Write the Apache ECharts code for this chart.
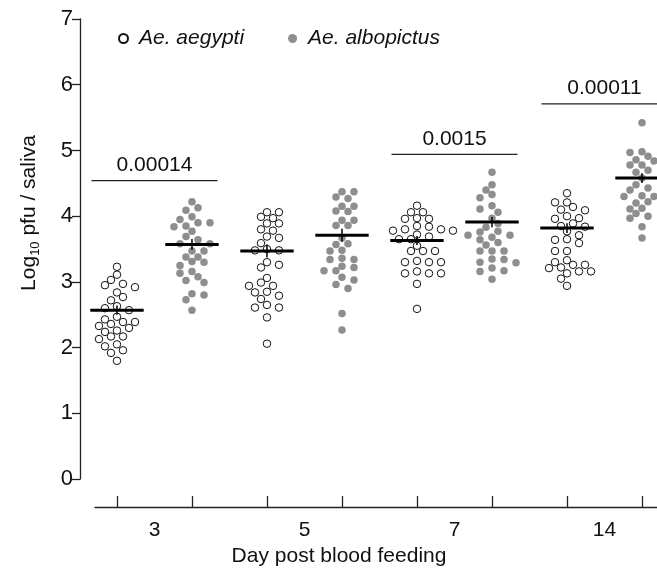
<!DOCTYPE html>
<html><head><meta charset="utf-8">
<script src="https://cdn.jsdelivr.net/npm/echarts@6/dist/echarts.min.js"></script>
<style>html,body{margin:0;padding:0;background:#fff}#c{width:657px;height:572px}</style>
</head><body><div id="c"></div>
<script>
// ---- data ----
const days = ['3', '5', '7', '14'];
const species = ['Ae. aegypti', 'Ae. albopictus'];
const yTicks = [0, 1, 2, 3, 4, 5, 6, 7];

const d3Aeg = [3.23,3.11,2.97,3.03,2.95,2.92,2.84,2.77,2.72,2.60,2.57,2.63,2.54,2.47,2.43,2.39,2.39,2.36,2.30,2.33,2.24,2.26,2.17,2.13,2.17,2.05,2.02,1.96,1.92,1.80];
const d3Alb = [4.22,4.13,4.09,3.99,3.95,3.90,3.85,3.84,3.90,3.77,3.69,3.64,3.58,3.58,3.47,3.47,3.38,3.38,3.31,3.25,3.30,3.16,3.08,3.13,3.02,2.99,2.80,2.82,2.73,2.57];
const d5Aeg = [4.06,4.06,3.99,3.97,3.89,3.89,3.80,3.78,3.67,3.69,3.59,3.50,3.48,3.48,3.30,3.26,3.22,3.06,2.94,2.94,2.99,2.85,2.79,2.84,2.74,2.61,2.61,2.65,2.46,2.06];
const d5Alb = [4.37,4.37,4.29,4.27,4.15,4.15,4.08,4.07,3.94,3.94,3.86,3.86,3.67,3.57,3.58,3.47,3.48,3.36,3.34,3.34,3.22,3.24,3.17,3.17,3.03,3.07,2.96,2.90,2.52,2.27];
const d7Aeg = [4.16,4.06,4.06,3.96,3.96,3.97,3.85,3.84,3.80,3.78,3.78,3.80,3.72,3.69,3.65,3.65,3.55,3.47,3.47,3.47,3.32,3.30,3.30,3.30,3.13,3.16,3.13,3.13,2.97,2.59];
const d7Alb = [4.67,4.48,4.40,4.33,4.28,4.16,4.11,4.06,3.97,3.89,3.83,3.76,3.77,3.68,3.71,3.71,3.64,3.60,3.56,3.47,3.47,3.47,3.34,3.30,3.35,3.29,3.21,3.17,3.16,3.04];
const d14Aeg = [4.35,4.21,4.21,4.14,4.10,4.09,3.97,3.96,4.00,3.89,3.85,3.84,3.77,3.71,3.65,3.64,3.59,3.47,3.47,3.33,3.30,3.26,3.26,3.21,3.16,3.16,3.22,3.13,3.05,2.94];
const d14Alb = [5.42,4.97,4.98,4.91,4.84,4.86,4.75,4.78,4.70,4.78,4.67,4.58,4.48,4.40,4.43,4.31,4.29,4.30,4.30,4.22,4.20,4.16,4.11,4.12,4.04,4.00,3.97,3.84,3.67];

const aegGroups = [d3Aeg, d5Aeg, d7Aeg, d14Aeg];
const albGroups = [d3Alb, d5Alb, d7Alb, d14Alb];
const aegMeans = [2.57, 3.47, 3.63, 3.82];
const albMeans = [3.57, 3.71, 3.91, 4.58];

const pLabels = ['0.00014', '0.0015', '0.00011'];
const pDayIdx = [0, 2, 3];
const pHeights = [4.54, 4.94, 5.71];

// ---- layout helpers ----
const W = 657, H = 572;
const GRID = { left: 95, right: 0, top: 19, bottom: 90 };
const X_MIN = -0.293, X_MAX = 7.2, Y_MIN = 0, Y_MAX = 7;
const xScale = (W - GRID.left - GRID.right) / (X_MAX - X_MIN);
const yScale = (H - GRID.top - GRID.bottom) / (Y_MAX - Y_MIN);
const MEAN_HALF = 0.356, SIG_HALF = 0.84;

function swarm(values, center) {
  const D = 7.4, step = 6;
  const placed = [];
  const out = new Array(values.length);
  const order = values.map((v, i) => i).sort((a, b) => values[b] - values[a]);
  let flip = 1;
  order.forEach(i => {
    const py = values[i] * yScale;
    flip = -flip;
    for (let k = 0; k < 60; k++) {
      const dx = k === 0 ? 0 : flip * (k % 2 ? 1 : -1) * Math.ceil(k / 2) * step;
      if (placed.every(p => (p.dx - dx) ** 2 + (p.py - py) ** 2 >= D * D)) {
        placed.push({ dx, py });
        out[i] = [center + dx / xScale, values[i]];
        break;
      }
    }
  });
  return out;
}
function sem(arr) {
  const m = arr.reduce((a, b) => a + b, 0) / arr.length;
  const v = arr.reduce((a, b) => a + (b - m) ** 2, 0) / (arr.length - 1);
  return Math.sqrt(v / arr.length);
}

const aegData = [], albData = [], meanData = [];
days.forEach((d, i) => {
  aegData.push(...swarm(aegGroups[i], 2 * i));
  albData.push(...swarm(albGroups[i], 2 * i + 1));
  meanData.push([2 * i, aegMeans[i], sem(aegGroups[i])]);
  meanData.push([2 * i + 1, albMeans[i], sem(albGroups[i])]);
});
const sigData = pLabels.map((l, i) => [2 * pDayIdx[i] + 0.5, pHeights[i]]);

const FONT = 'Liberation Sans, Arial, sans-serif';
const AX = '#222';
const chart = echarts.init(document.getElementById('c'), null, { renderer: 'canvas' });
chart.setOption({
  animation: false,
  backgroundColor: '#fff',
  textStyle: { fontFamily: FONT },
  grid: GRID,
  legend: {
    left: 113, top: 23, itemWidth: 9, itemHeight: 9, itemGap: 44,
    selectedMode: false,
    textStyle: { fontSize: 21, fontStyle: 'italic', fontFamily: FONT, color: '#111', padding: [0, 0, 0, 6] },
    data: species.map(s => ({ name: s, icon: 'circle' }))
  },
  xAxis: {
    type: 'value', min: X_MIN, max: X_MAX, offset: 28,
    splitLine: { show: false },
    axisLine: { show: true, onZero: false, lineStyle: { color: AX, width: 1.3 } },
    axisTick: { show: true, inside: true, length: 11, lineStyle: { color: AX, width: 1.3 },
      customValues: days.flatMap((d, i) => [2 * i, 2 * i + 1]) },
    axisLabel: { fontSize: 21, margin: 13, color: '#111', fontFamily: FONT,
      customValues: days.map((d, i) => 2 * i + 0.5),
      formatter: v => days[Math.round((v - 0.5) / 2)] },
    name: 'Day post blood feeding', nameLocation: 'middle', nameGap: 36,
    nameTextStyle: { fontSize: 21, color: '#111', fontFamily: FONT, padding: [0, 74, 0, 0] }
  },
  yAxis: {
    type: 'value', min: Y_MIN, max: Y_MAX, interval: 1, offset: 15,
    splitLine: { show: false },
    axisLine: { show: true, onZero: false, lineStyle: { color: AX, width: 1.3 } },
    axisTick: { show: true, length: 8, lineStyle: { color: AX, width: 1.3 } },
    axisLabel: { fontSize: 22, margin: 7, color: '#111', fontFamily: FONT,
      customValues: yTicks },
    name: '{n|Log}{s|10}{n| pfu / saliva}', nameLocation: 'middle', nameGap: 38,
    nameTextStyle: {
      padding: [0, 0, 0, 72],
      rich: {
        n: { fontSize: 21, color: '#111', fontFamily: FONT, lineHeight: 26 },
        s: { fontSize: 13, color: '#111', fontFamily: FONT, lineHeight: 13, verticalAlign: 'bottom' }
      }
    }
  },
  series: [
    { name: species[0], type: 'scatter', data: aegData, symbol: 'circle', symbolSize: 7.5, z: 2,
      itemStyle: { color: '#fff', borderColor: '#111', borderWidth: 1, opacity: 1 } },
    { name: species[1], type: 'scatter', data: albData, symbol: 'circle', symbolSize: 7.5, z: 2,
      itemStyle: { color: '#8e8e8e', opacity: 1 } },
    { type: 'custom', data: meanData, z: 5, silent: true,
      renderItem: (params, api) => {
        const x = api.value(0), m = api.value(1), s = api.value(2);
        const a = api.coord([x - MEAN_HALF, m]), b = api.coord([x + MEAN_HALF, m]);
        const t = api.coord([x, m + s]), u = api.coord([x, m - s]);
        return { type: 'group', children: [
          { type: 'line', shape: { x1: t[0], y1: t[1], x2: u[0], y2: u[1] }, style: { stroke: '#000', lineWidth: 1.5 } },
          { type: 'line', shape: { x1: a[0], y1: a[1], x2: b[0], y2: b[1] }, style: { stroke: '#000', lineWidth: 3 } }
        ] };
      } },
    { type: 'custom', data: sigData, z: 5, silent: true,
      renderItem: (params, api) => {
        const cx = api.value(0), y = api.value(1);
        const a = api.coord([cx - SIG_HALF, y]), b = api.coord([cx + SIG_HALF, y]);
        return { type: 'group', children: [
          { type: 'line', shape: { x1: a[0], y1: a[1], x2: b[0], y2: b[1] }, style: { stroke: AX, lineWidth: 1.3 } },
          { type: 'text', x: (a[0] + b[0]) / 2, y: a[1] - 5,
            style: { text: pLabels[params.dataIndex], fill: '#111', font: '21px ' + FONT, align: 'center', verticalAlign: 'bottom' } }
        ] };
      } }
  ]
});
</script></body></html>
